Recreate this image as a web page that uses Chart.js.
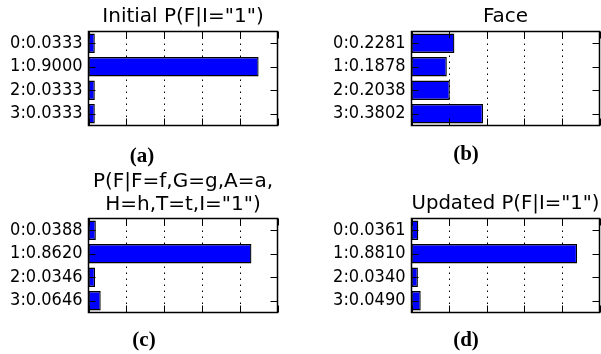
<!DOCTYPE html>
<html>
<head>
<meta charset="utf-8">
<script src="https://cdn.jsdelivr.net/npm/chart.js@4.4.1/dist/chart.umd.min.js"></script>
<style>
  html, body { margin: 0; padding: 0; background: #fff; }
  body { width: 601px; height: 354px; position: relative; overflow: hidden; }
  .panel { position: absolute; }
  .cap { position: absolute; width: 100px; text-align: center; font-family: "Liberation Serif", serif; font-weight: bold; font-size: 21px; line-height: 24px; color: #000; }
</style>
</head>
<body>
<div class="panel" id="pa" style="left:0px;top:0px;width:300px;height:177px"><canvas id="ca"></canvas></div>
<div class="panel" id="pb" style="left:300px;top:0px;width:301px;height:177px"><canvas id="cb"></canvas></div>
<div class="panel" id="pc" style="left:0px;top:160px;width:300px;height:194px"><canvas id="cc"></canvas></div>
<div class="panel" id="pd" style="left:300px;top:160px;width:301px;height:194px"><canvas id="cd"></canvas></div>
<div class="cap" style="left:92px;top:143px">(a)</div>
<div class="cap" style="left:416px;top:141px">(b)</div>
<div class="cap" style="left:94px;top:327px">(c)</div>
<div class="cap" style="left:416px;top:327px">(d)</div>
<script>
// ---- data ----
const states = [0, 1, 2, 3];
const initialP = [0.0333, 0.9000, 0.0333, 0.0333];
const faceP = [0.2281, 0.1878, 0.2038, 0.3802];
const posteriorP = [0.0388, 0.8620, 0.0346, 0.0646];
const updatedP = [0.0361, 0.8810, 0.0340, 0.0490];
const xTicks = [0, 0.2, 0.4, 0.6, 0.8, 1.0];
const titleA = 'Initial P(F|I="1")';
const titleB = 'Face';
const titleC = ['P(F|F=f,G=g,A=a,', 'H=h,T=t,I="1")'];
const titleD = 'Updated P(F|I="1")';

const framePlugin = {
  id: 'frame',
  beforeDatasetsDraw(chart) {
    const {ctx, chartArea: a, scales: {x}} = chart;
    ctx.save();
    ctx.strokeStyle = '#000';
    ctx.lineWidth = 1;
    ctx.setLineDash([1.5, 4.5]);
    xTicks.forEach(v => {
      if (v <= 0 || v >= 1) return;
      const px = Math.round(x.getPixelForValue(v)) + 0.5;
      ctx.beginPath(); ctx.moveTo(px, a.top); ctx.lineTo(px, a.bottom); ctx.stroke();
    });
    ctx.restore();
  },
  afterDatasetsDraw(chart) {
    const {ctx, chartArea: a, scales: {x, y}} = chart;
    const L = 7;
    ctx.save();
    ctx.strokeStyle = '#000';
    ctx.lineWidth = 1;
    ctx.setLineDash([]);
    xTicks.forEach(v => {
      const px = Math.round(x.getPixelForValue(v)) + 0.5;
      ctx.beginPath();
      ctx.moveTo(px, a.top); ctx.lineTo(px, a.top + L);
      ctx.moveTo(px, a.bottom); ctx.lineTo(px, a.bottom - L);
      ctx.stroke();
    });
    states.forEach((s, i) => {
      const py = Math.round(y.getPixelForValue(i)) + 0.5;
      ctx.beginPath();
      ctx.moveTo(a.left, py); ctx.lineTo(a.left + L, py);
      ctx.moveTo(a.right, py); ctx.lineTo(a.right - L, py);
      ctx.stroke();
    });
    ctx.lineWidth = 1.5;
    ctx.strokeRect(a.left, a.top, a.right - a.left, a.bottom - a.top);
    ctx.restore();
  }
};

function makeChart(id, values, title, g) {
  const labels = states.map((s, i) => s + ':' + values[i].toFixed(4));
  return new Chart(document.getElementById(id), {
    type: 'bar',
    data: {
      labels: labels,
      datasets: [{
        data: values,
        backgroundColor: '#0000ff',
        borderColor: '#000000',
        borderWidth: 1.3,
        borderSkipped: false,
        barPercentage: 0.82,
        categoryPercentage: 1.0
      }]
    },
    options: {
      indexAxis: 'y',
      responsive: true,
      maintainAspectRatio: false,
      animation: false,
      events: [],
      layout: { padding: { left: 0, right: g.padRight, top: 0, bottom: g.padBottom } },
      plugins: {
        legend: { display: false },
        tooltip: { enabled: false },
        title: {
          display: true,
          text: title,
          fullSize: false,
          color: '#000',
          font: { family: 'DejaVu Sans', size: 20, weight: 'normal', lineHeight: 1.15 },
          padding: { top: g.titleTop, bottom: g.titleBottom }
        }
      },
      scales: {
        x: {
          type: 'linear', min: 0, max: 1,
          ticks: { display: false, stepSize: 0.2 },
          grid: { display: false, drawTicks: false },
          border: { display: false },
          afterFit(scale) { scale.height = 0; }
        },
        y: {
          type: 'category',
          ticks: { color: '#000', padding: 6, autoSkip: false, font: { family: 'DejaVu Sans Condensed', size: 18 } },
          grid: { display: false, drawTicks: false },
          border: { display: false },
          afterFit(scale) { scale.width = g.yWidth; }
        }
      }
    },
    plugins: [framePlugin]
  });
}

makeChart('ca', initialP, titleA, { yWidth: 88.5, padRight: 22.5, padBottom: 51.5, titleTop: 5, titleBottom: 3.5 });
makeChart('cb', faceP, titleB, { yWidth: 111.5, padRight: 1.5, padBottom: 51.5, titleTop: 5, titleBottom: 3.5 });
makeChart('cc', posteriorP, titleC, { yWidth: 88.5, padRight: 22.5, padBottom: 41.5, titleTop: 10.5, titleBottom: 2 });
makeChart('cd', updatedP, titleD, { yWidth: 111.5, padRight: 1.5, padBottom: 41.5, titleTop: 32.5, titleBottom: 3 });
</script>
</body>
</html>
